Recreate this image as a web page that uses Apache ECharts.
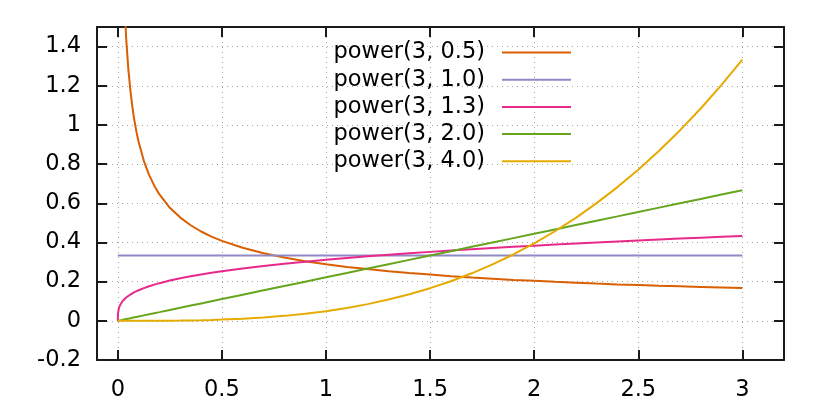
<!DOCTYPE html>
<html><head><meta charset="utf-8">
<script src="https://cdn.jsdelivr.net/npm/echarts@6/dist/echarts.min.js"></script>
<style>html,body{margin:0;padding:0;background:#fff}#c{width:830px;height:415px}</style>
</head><body><div id="c"></div>
<script>
const xs = [0, 0.001, 0.002, 0.005, 0.01, 0.02, 0.03, 0.04, 0.05, 0.06, 0.07, 0.075, 0.08, 0.09, 0.1,
  0.125, 0.15, 0.175, 0.2, 0.25, 0.3, 0.35, 0.4, 0.45, 0.5,
  0.6, 0.7, 0.8, 0.9, 1.0, 1.1, 1.2, 1.3, 1.4, 1.5, 1.6, 1.7, 1.8, 1.9, 2.0,
  2.1, 2.2, 2.3, 2.4, 2.5, 2.6, 2.7, 2.8, 2.9, 3.0];
const seriesNames = ['power(3, 0.5)', 'power(3, 1.0)', 'power(3, 1.3)', 'power(3, 2.0)', 'power(3, 4.0)'];
const pow05 = [null, null, 6.455, 4.082, 2.887, 2.041, 1.667, 1.443, 1.291, 1.179, 1.091, 1.054, 1.021, 0.962, 0.913,
  0.817, 0.745, 0.690, 0.645, 0.577, 0.527, 0.488, 0.456, 0.430, 0.408,
  0.373, 0.345, 0.323, 0.304, 0.289, 0.275, 0.264, 0.253, 0.244, 0.236, 0.228, 0.221, 0.215, 0.209, 0.204,
  0.199, 0.195, 0.190, 0.186, 0.183, 0.179, 0.176, 0.173, 0.170, 0.167];
const pow10 = [0.333, 0.333, 0.333, 0.333, 0.333, 0.333, 0.333, 0.333, 0.333, 0.333, 0.333, 0.333, 0.333, 0.333, 0.333,
  0.333, 0.333, 0.333, 0.333, 0.333, 0.333, 0.333, 0.333, 0.333, 0.333,
  0.333, 0.333, 0.333, 0.333, 0.333, 0.333, 0.333, 0.333, 0.333, 0.333, 0.333, 0.333, 0.333, 0.333, 0.333,
  0.333, 0.333, 0.333, 0.333, 0.333, 0.333, 0.333, 0.333, 0.333, 0.333];
const pow13 = [0, 0.0392, 0.0483, 0.0636, 0.0783, 0.0964, 0.1088, 0.1187, 0.1269, 0.1340, 0.1403, 0.1433, 0.1461, 0.1513, 0.1562,
  0.1670, 0.1764, 0.1848, 0.1923, 0.2056, 0.2172, 0.2275, 0.2367, 0.2453, 0.2531,
  0.2674, 0.2800, 0.2915, 0.3020, 0.3117, 0.3207, 0.3292, 0.3372, 0.3448, 0.3520, 0.3589, 0.3654, 0.3718, 0.3778, 0.3837,
  0.3894, 0.3948, 0.4001, 0.4053, 0.4103, 0.4151, 0.4198, 0.4245, 0.4289, 0.4333];
const pow20 = [0, 0.0002, 0.0004, 0.0011, 0.0022, 0.0044, 0.0067, 0.0089, 0.0111, 0.0133, 0.0156, 0.0167, 0.0178, 0.0200, 0.0222,
  0.0278, 0.0333, 0.0389, 0.0444, 0.0556, 0.0667, 0.0778, 0.0889, 0.1000, 0.1111,
  0.1333, 0.1556, 0.1778, 0.2000, 0.2222, 0.2444, 0.2667, 0.2889, 0.3111, 0.3333, 0.3556, 0.3778, 0.4000, 0.4222, 0.4444,
  0.4667, 0.4889, 0.5111, 0.5333, 0.5556, 0.5778, 0.6000, 0.6222, 0.6444, 0.6667];
const pow40 = [0, 0, 0, 0, 0, 0, 0.000001, 0.000003, 0.000006, 0.000011, 0.000017, 0.000021, 0.000025, 0.000036, 0.000049,
  0.000096, 0.000167, 0.000265, 0.000395, 0.000772, 0.001333, 0.00212, 0.00316, 0.0045, 0.00617,
  0.01067, 0.01694, 0.02528, 0.0360, 0.04938, 0.06573, 0.08533, 0.10850, 0.13551, 0.16667, 0.20227, 0.24262, 0.28800, 0.33872, 0.39506,
  0.45733, 0.52583, 0.60084, 0.68267, 0.77160, 0.86795, 0.97200, 1.08405, 1.20440, 1.33333];
const allSeries = [pow05, pow10, pow13, pow20, pow40];
const colors = ['#d95f02', '#8f8ac4', '#e7298a', '#66a61e', '#e6ab02'];

const font = 'DejaVu Sans';
const fs = 22.5;
const gridLine = {show: true, lineStyle: {color: '#a8a8a8', width: 1, type: [1, 4]}};
const axisLineStyle = {show: true, onZero: false, lineStyle: {color: '#1a1a1a', width: 2}};
const tickStyle = {show: true, inside: true, length: 10, lineStyle: {color: '#1a1a1a', width: 2}};

function xAx(pos, labels) {
  return {type: 'value', position: pos, min: -0.1, max: 3.2, splitNumber: 7,
    axisLine: axisLineStyle, axisTick: tickStyle, splitLine: labels ? gridLine : {show: false},
    axisLabel: {show: labels, showMinLabel: false, showMaxLabel: false, margin: 19,
      fontFamily: font, fontSize: fs, color: '#000'}};
}
function yAx(pos, labels) {
  return {type: 'value', position: pos, min: -0.2, max: 1.5, interval: 0.2,
    axisLine: axisLineStyle, axisTick: tickStyle, splitLine: labels ? gridLine : {show: false},
    axisLabel: {show: labels, showMaxLabel: false, margin: 16,
      fontFamily: font, fontSize: fs, color: '#000',
      formatter: v => String(Math.round(v * 10) / 10)}};
}

const chart = echarts.init(document.getElementById('c'), null, {renderer: 'canvas'});
chart.setOption({
  animation: false,
  backgroundColor: '#fff',
  grid: {left: 97, right: 46, top: 27, bottom: 55, containLabel: false},
  xAxis: [xAx('bottom', true), xAx('top', false)],
  yAxis: [yAx('left', true), yAx('right', false)],
  legend: {
    orient: 'vertical', align: 'right', right: 259, top: 41, padding: 0,
    icon: 'rect', itemWidth: 69, itemHeight: 2, itemGap: 4.2,
    textStyle: {fontFamily: font, fontSize: fs, color: '#000', lineHeight: 22.5, padding: [0, 12, 0, 0]},
    data: seriesNames
  },
  series: allSeries.map((arr, k) => ({
    name: seriesNames[k], type: 'line', showSymbol: false, symbol: 'none',
    color: colors[k], lineStyle: {width: 2, color: colors[k]},
    data: xs.map((x, i) => [x, arr[i]]).filter(p => p[1] !== null)
  }))
});
</script></body></html>
